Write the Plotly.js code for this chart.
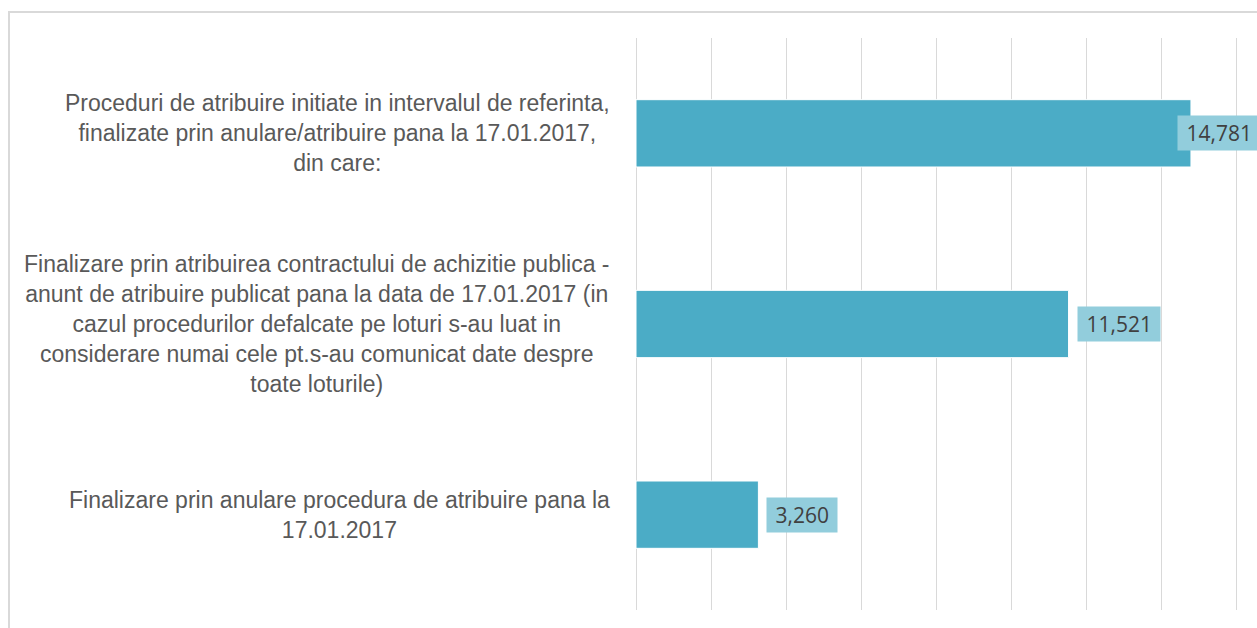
<!DOCTYPE html>
<html>
<head>
<meta charset="utf-8">
<script src="https://cdn.plot.ly/plotly-3.0.1.min.js"></script>
<style>
  html, body { margin: 0; padding: 0; background: #fff; overflow: hidden; }
  #frame {
    position: absolute; left: 8px; top: 11px;
    width: 1300px; height: 700px;
    border-top: 2px solid #d9d9d9; border-left: 2px solid #d9d9d9;
  }
  #plot { width: 1247px; height: 615px; }
</style>
</head>
<body>
<div id="frame"><div id="plot"></div></div>
<script>
// categories, top to bottom
let categories = [
    'Proceduri de atribuire initiate in intervalul de referinta,<br>finalizate prin anulare/atribuire pana la 17.01.2017,<br>din care:',
    'Finalizare prin atribuirea contractului de achizitie publica -<br>anunt de atribuire publicat pana la data de 17.01.2017 (in<br>cazul procedurilor defalcate pe loturi s-au luat in<br>considerare numai cele pt.s-au comunicat date despre<br>toate loturile)',
    'Finalizare prin anulare procedura de atribuire pana la<br>17.01.2017'
];
let values = [14781, 11521, 3260];
let valueLabels = ['14,781', '11,521', '3,260'];

let labelFont = { family: 'Liberation Sans Narrow, Arial Narrow, sans-serif', size: 23, color: '#595959' };

let trace = {
    type: 'bar',
    orientation: 'h',
    x: values,
    y: categories,
    marker: { color: '#4BACC6', line: { color: '#ffffff', width: 1 } },
    hoverinfo: 'x'
};

// category labels, centred lines, block ending just left of the axis
let catAnnotations = categories.map(c => ({
    x: 0, y: c, xref: 'x', yref: 'y',
    xanchor: 'right', yanchor: 'middle', xshift: -24,
    text: c, align: 'center', showarrow: false,
    font: labelFont
}));

// data labels in boxes; the longest bar's box is pulled back so it fits
let valueAnnotations = values.map((v, i) => ({
    x: v, y: categories[i], xref: 'x', yref: 'y',
    xanchor: 'left', yanchor: 'middle',
    xshift: v === Math.max(...values) ? -14 : 8,
    text: '&nbsp;' + valueLabels[i] + '&nbsp;', showarrow: false,
    bgcolor: '#92CDDC', borderpad: 3,
    font: { family: 'Open Sans, sans-serif', size: 21, color: '#404040' }
}));

let layout = {
    margin: { l: 626, r: 0, t: 25, b: 18 },
    paper_bgcolor: '#ffffff',
    plot_bgcolor: '#ffffff',
    bargap: 0.647,
    showlegend: false,
    xaxis: {
        range: [0, 16540],
        dtick: 2000,
        showgrid: true,
        gridcolor: '#d9d9d9',
        gridwidth: 1,
        zeroline: true,
        zerolinecolor: '#d9d9d9',
        zerolinewidth: 1,
        showticklabels: false,
        showline: false,
        fixedrange: true
    },
    yaxis: {
        autorange: 'reversed',
        showticklabels: false,
        showgrid: false,
        zeroline: false,
        fixedrange: true
    },
    annotations: catAnnotations.concat(valueAnnotations)
};

Plotly.newPlot('plot', [trace], layout, { displayModeBar: false, staticPlot: true });
</script>
</body>
</html>
